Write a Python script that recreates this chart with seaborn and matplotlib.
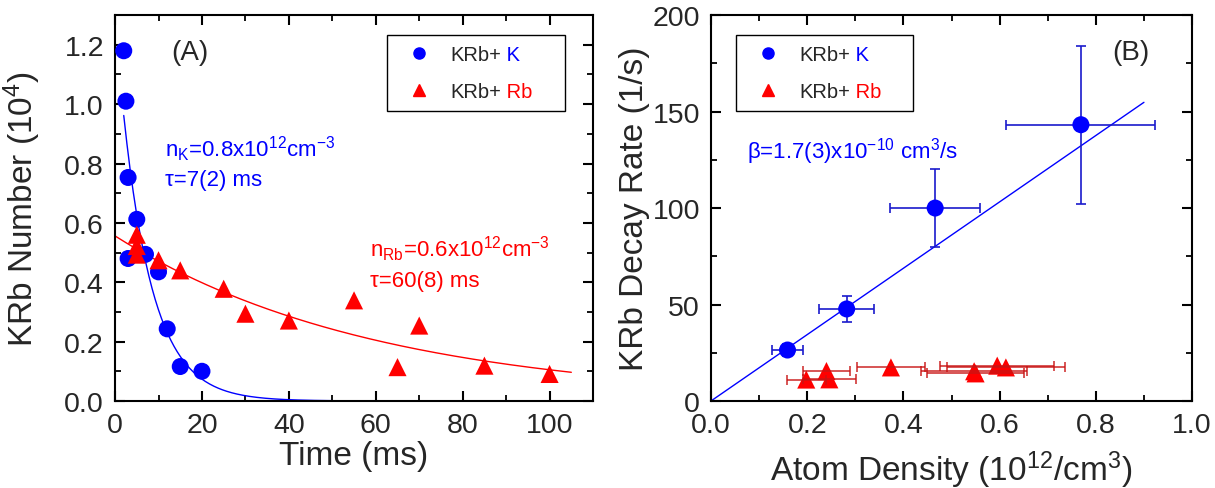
import numpy as np
import matplotlib
matplotlib.use("Agg")
import matplotlib.pyplot as plt
from matplotlib.lines import Line2D
from matplotlib.ticker import MultipleLocator, FormatStrFormatter
import seaborn as sns

# Panel A: KRb number vs time
t_k = [2, 2.5, 3, 5, 3, 7, 10, 12, 15, 20]
n_k = [1.18, 1.01, 0.753, 0.612, 0.48, 0.494, 0.435, 0.243, 0.116, 0.10]
t_rb = [5, 5, 5, 10, 15, 25, 30, 40, 55, 65, 70, 85, 100]
n_rb = [0.560, 0.522, 0.493, 0.474, 0.44, 0.378, 0.294, 0.271, 0.339, 0.114, 0.254, 0.119, 0.091]

# exponential fits (amplitude, tau in ms, time range)
amp_k, tau_k, range_k = 1.28, 7.0, (2, 50)
amp_rb, tau_rb, range_rb = 0.556, 60.0, (0, 105)

# Panel B: decay rate vs density
dens_k = [0.159, 0.282, 0.466, 0.769]
dens_k_err = [0.032, 0.057, 0.094, 0.155]
rate_k = [26.4, 47.7, 100.0, 143.2]
rate_k_err = [3.0, 6.9, 20.0, 41.0]

dens_rb = [0.198, 0.240, 0.246, 0.374, 0.547, 0.550, 0.595, 0.613]
dens_rb_err = [0.040, 0.048, 0.055, 0.070, 0.110, 0.100, 0.119, 0.123]
rate_rb = [11.1, 15.5, 11.2, 17.4, 15.4, 14.3, 18.3, 17.4]

beta_slope, beta_range = 172.0, (0, 0.9)

sns.set_style("ticks")
plt.rcParams['font.family'] = ['Liberation Sans', 'DejaVu Sans']
plt.rcParams['mathtext.fontset'] = 'custom'
plt.rcParams['mathtext.rm'] = 'Liberation Sans'
plt.rcParams['mathtext.it'] = 'Liberation Sans:italic'
plt.rcParams['mathtext.bf'] = 'Liberation Sans:bold'

BLUE = '#0000ff'
RED = '#ff0000'

fig = plt.figure(figsize=(12.15, 4.89), dpi=100)
axA = fig.add_axes([0.0947, 0.178, 0.3934, 0.789])
axB = fig.add_axes([0.5852, 0.178, 0.3959, 0.789])


def style_axis(ax):
    for sp in ax.spines.values():
        sp.set_linewidth(1.5)
        sp.set_color('black')
    ax.tick_params(which='both', direction='in', top=True, right=True,
                   labelsize=20.5, pad=8, color='black')
    ax.tick_params(which='major', length=7, width=1.5)
    ax.tick_params(which='minor', length=4, width=1.3)


def add_legend(ax, anchor):
    handles = [Line2D([], [], ls='none', marker='o', color=BLUE, markersize=8),
               Line2D([], [], ls='none', marker='^', color=RED, markersize=9)]
    leg = ax.legend(handles, ['KRb+', 'KRb+'], loc='upper left', bbox_to_anchor=anchor,
                    mode='expand', borderaxespad=0, fontsize=14.5, fancybox=False,
                    edgecolor='black', framealpha=1, labelspacing=0.9,
                    handlelength=2.2, handletextpad=0.45, borderpad=0.5)
    leg.get_frame().set_linewidth(1.0)
    for txt, part, col in zip(leg.get_texts(), [' K', ' Rb'], [BLUE, RED]):
        ax.annotate(part, xy=(1, 0), xycoords=txt, va='bottom', ha='left',
                    fontsize=14.5, color=col, zorder=10)
    return leg


# ---- Panel A ----
t1 = np.linspace(*range_k, 200)
t2 = np.linspace(*range_rb, 200)
sns.lineplot(x=t1, y=amp_k * np.exp(-t1 / tau_k), color=BLUE, lw=1, ax=axA, zorder=2)
sns.lineplot(x=t2, y=amp_rb * np.exp(-t2 / tau_rb), color=RED, lw=1, ax=axA, zorder=2)
sns.scatterplot(x=t_k, y=n_k, color=BLUE, marker='o', s=150, edgecolor='none',
                ax=axA, zorder=3, legend=False)
sns.scatterplot(x=t_rb, y=n_rb, color=RED, marker='^', s=170, edgecolor='none',
                ax=axA, zorder=4, legend=False)

axA.set_xlim(0, 110)
axA.set_ylim(0, 1.3)
axA.xaxis.set_major_locator(MultipleLocator(20))
axA.xaxis.set_minor_locator(MultipleLocator(10))
axA.yaxis.set_major_locator(MultipleLocator(0.2))
axA.yaxis.set_minor_locator(MultipleLocator(0.1))
axA.yaxis.set_major_formatter(FormatStrFormatter('%.1f'))
style_axis(axA)
axA.set_xlabel('Time (ms)', fontsize=24)
axA.set_ylabel('KRb Number (10$^4$)', fontsize=24)
axA.yaxis.set_label_coords(-0.15, 0.5)
axA.xaxis.set_label_coords(0.5, -0.102)

axA.text(0.157, 0.904, '(A)', transform=axA.transAxes, fontsize=20, ha='center', va='center')
axA.text(0.105, 0.635, 'n$_\\mathrm{K}$=0.8x10$^{12}$cm$^{-3}$', transform=axA.transAxes,
         fontsize=16, color=BLUE, va='baseline')
axA.text(0.105, 0.560, 'τ=7(2) ms', transform=axA.transAxes, fontsize=16, color=BLUE, va='baseline')
axA.text(0.533, 0.376, 'n$_\\mathrm{Rb}$=0.6x10$^{12}$cm$^{-3}$', transform=axA.transAxes,
         fontsize=16, color=RED, va='baseline')
axA.text(0.533, 0.297, 'τ=60(8) ms', transform=axA.transAxes, fontsize=16, color=RED, va='baseline')
add_legend(axA, (0.569, 0.744, 0.372, 0.204))

# ---- Panel B ----
xb = np.linspace(*beta_range, 50)
sns.lineplot(x=xb, y=beta_slope * xb, color=BLUE, lw=1, ax=axB, zorder=2)
axB.errorbar(dens_k, rate_k, xerr=dens_k_err, yerr=rate_k_err, fmt='none',
             ecolor='#1a1acc', elinewidth=1.2, capsize=3.5, capthick=1.2, zorder=3)
sns.scatterplot(x=dens_k, y=rate_k, color=BLUE, marker='o', s=150, edgecolor='none',
                ax=axB, zorder=4, legend=False)
sns.scatterplot(x=dens_rb, y=rate_rb, color=RED, marker='^', s=170, edgecolor='none',
                ax=axB, zorder=4, legend=False)
axB.errorbar(dens_rb, rate_rb, xerr=dens_rb_err, fmt='none', ecolor='#c81414',
             elinewidth=1.2, capsize=3.5, capthick=1.2, alpha=0.85, zorder=5)

axB.set_xlim(0, 1.0)
axB.set_ylim(0, 200)
axB.xaxis.set_major_locator(MultipleLocator(0.2))
axB.xaxis.set_minor_locator(MultipleLocator(0.1))
axB.yaxis.set_major_locator(MultipleLocator(50))
axB.yaxis.set_minor_locator(MultipleLocator(25))
axB.xaxis.set_major_formatter(FormatStrFormatter('%.1f'))
style_axis(axB)
axB.set_xlabel('Atom Density (10$^{12}$/cm$^3$)', fontsize=24)
axB.set_ylabel('KRb Decay Rate (1/s)', fontsize=24)
axB.yaxis.set_label_coords(-0.127, 0.5)
axB.xaxis.set_label_coords(0.5, -0.122)

axB.text(0.873, 0.904, '(B)', transform=axB.transAxes, fontsize=20, ha='center', va='center')
axB.text(0.074, 0.631, 'β=1.7(3)x10$^{-10}$ cm$^3$/s', transform=axB.transAxes,
         fontsize=16, color=BLUE, va='baseline')
add_legend(axB, (0.052, 0.744, 0.368, 0.204))

fig.savefig('out.png', dpi=100)
